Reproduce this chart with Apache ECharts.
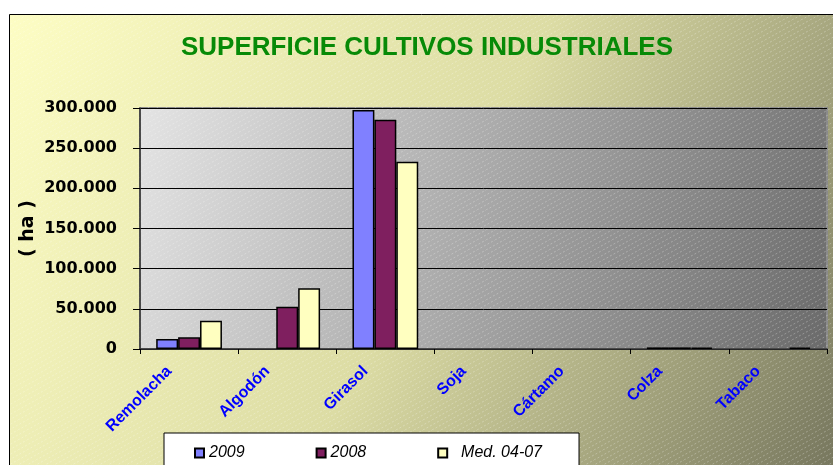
<!DOCTYPE html>
<html>
<head>
<meta charset="utf-8">
<script src="https://cdn.jsdelivr.net/npm/echarts@6/dist/echarts.min.js"></script>
<style>
  html, body { margin: 0; padding: 0; background: #fff; }
  #chart { width: 833px; height: 465px; }
</style>
</head>
<body>
<div id="chart"></div>
<script>
// datos
const categories = ["Remolacha", "Algodón", "Girasol", "Soja", "Cártamo", "Colza", "Tabaco"];
const serie2009 = [12400, "-", 297500, "-", "-", 2000, "-"];
const serie2008 = [14500, 52700, 285500, "-", "-", 2000, "-"];
const serieMed = [35300, 75500, 233000, "-", "-", 1800, 1800];
const yTicks = [0, 50000, 100000, 150000, 200000, 250000, 300000];

// grid
const GL = 140, GT = 108, GR = 6, GB = 116;
const W = 833, H = 465;

// rayas diagonales del fondo
function stripes() {
  const c = document.createElement("canvas");
  c.width = 18;
  c.height = 10;
  const ctx = c.getContext("2d");
  ctx.strokeStyle = "rgba(255,255,255,0.28)";
  ctx.lineWidth = 1;
  ctx.setLineDash([2, 2]);
  [-9, 0, 9].forEach(function (o) {
    ctx.beginPath();
    ctx.moveTo(o, 10);
    ctx.lineTo(o + 18, 0);
    ctx.stroke();
  });
  return c;
}
const pattern = { image: stripes(), repeat: "repeat" };

function fmt(v) {
  return String(v).replace(/\B(?=(\d{3})+(?!\d))/g, ".");
}

const chart = echarts.init(document.getElementById("chart"));
const barStyle = { borderColor: "#000", borderWidth: 1.5 };

chart.setOption({
  animation: false,
  graphic: [
    {
      type: "rect", z: -10, silent: true,
      shape: { x: 9.5, y: 14.5, width: W, height: H },
      style: {
        fill: new echarts.graphic.LinearGradient(0, 0, 1, 1, [
          { offset: 0, color: "#fdfdc4" },
          { offset: 0.5, color: "#dcdca4" },
          { offset: 1, color: "#74745c" }
        ]),
        stroke: "#000", lineWidth: 1
      }
    },
    {
      type: "rect", z: -9, silent: true,
      shape: { x: GL, y: GT, width: W - GL - GR, height: H - GT - GB },
      style: {
        fill: new echarts.graphic.LinearGradient(0, 0, 1, 1, [
          { offset: 0, color: "#e4e4e4" },
          { offset: 1, color: "#6a6a6a" }
        ]),
        stroke: "#8a8a8a", lineWidth: 2
      }
    },
    {
      type: "rect", z: -8, silent: true,
      shape: { x: 10, y: 15, width: W, height: H },
      style: { fill: pattern }
    }
  ],
  title: {
    text: "SUPERFICIE CULTIVOS INDUSTRIALES",
    left: 422,
    top: 30,
    textAlign: "center",
    textStyle: {
      fontFamily: "Liberation Sans, Arial",
      fontWeight: "bold",
      fontSize: 26,
      color: "#078a07"
    }
  },
  legend: {
    left: 164,
    top: 433,
    padding: [12, 37, 20, 30],
    backgroundColor: "#fff",
    borderColor: "#000",
    borderWidth: 1,
    itemWidth: 9,
    itemHeight: 9,
    itemGap: 71,
    icon: "rect",
    formatter: function (name) {
      return name === "Med. 04-07" ? "  " + name : name;
    },
    textStyle: {
      fontFamily: "Liberation Sans, Arial",
      fontStyle: "italic",
      fontSize: 16,
      color: "#000"
    }
  },
  grid: { left: GL, top: GT, right: GR, bottom: GB, containLabel: false },
  xAxis: {
    type: "category",
    data: categories,
    axisLine: { lineStyle: { color: "#333", width: 1.5 } },
    axisTick: { show: true, length: 5, lineStyle: { color: "#000" } },
    axisLabel: {
      rotate: 45,
      margin: 0,
      padding: [0, 28, 0, 0],
      interval: 0,
      color: "#0000ff",
      fontFamily: "Liberation Sans, Arial",
      fontWeight: "bold",
      fontSize: 16
    }
  },
  yAxis: {
    type: "value",
    min: yTicks[0],
    max: yTicks[yTicks.length - 1],
    interval: yTicks[1] - yTicks[0],
    name: "( ha )",
    nameLocation: "middle",
    nameGap: 102,
    nameMoveOverlap: false,
    nameRotate: 90,
    nameTextStyle: {
      fontFamily: "DejaVu Sans, Verdana",
      fontWeight: "bold",
      fontSize: 19,
      color: "#000"
    },
    axisLine: { show: true, lineStyle: { color: "#333", width: 1.5 } },
    axisTick: { show: true, length: 7, lineStyle: { color: "#000" } },
    splitLine: { lineStyle: { color: "#000", width: 1 } },
    axisLabel: {
      margin: 23,
      color: "#000",
      fontFamily: "DejaVu Sans, Verdana",
      fontWeight: "bold",
      fontSize: 16,
      formatter: fmt
    }
  },
  series: [
    { name: "2009", type: "bar", data: serie2009, barGap: "0%", barCategoryGap: "33%",
      itemStyle: Object.assign({ color: "#8080ff" }, barStyle) },
    { name: "2008", type: "bar", data: serie2008, barGap: "0%", barCategoryGap: "33%",
      itemStyle: Object.assign({ color: "#7f1f5f" }, barStyle) },
    { name: "Med. 04-07", type: "bar", data: serieMed, barGap: "0%", barCategoryGap: "33%",
      itemStyle: Object.assign({ color: "#ffffc0" }, barStyle) }
  ]
});
</script>
</body>
</html>
